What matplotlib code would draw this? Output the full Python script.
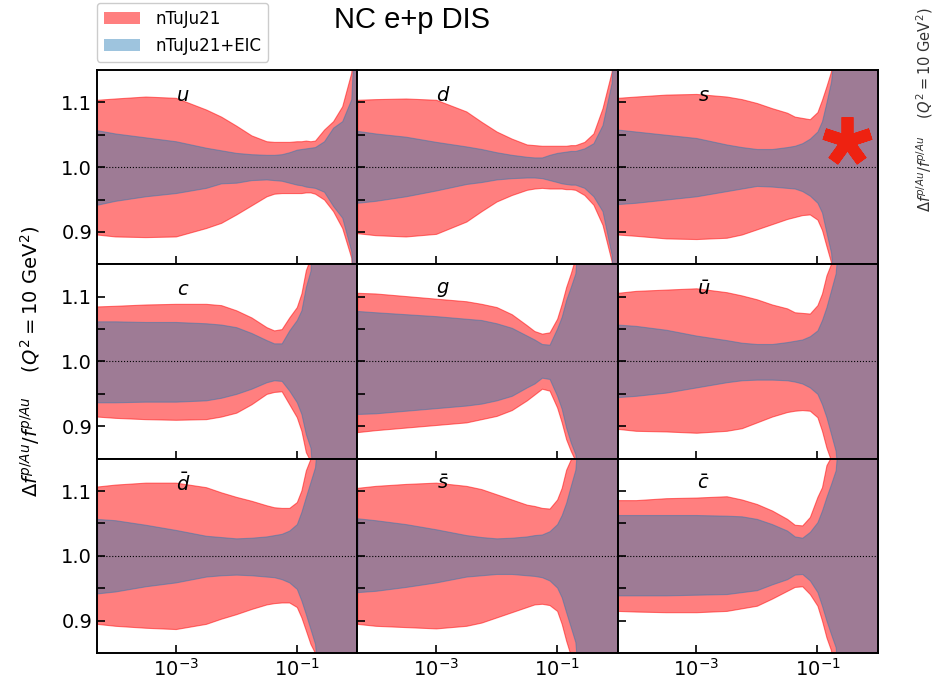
import numpy as np
import matplotlib
matplotlib.use("Agg")
import matplotlib.pyplot as plt
from matplotlib.patches import Patch

# x grid (momentum fraction), shared by all panels
X = [5.0e-5, 1.0e-4, 3.16e-4, 1.0e-3, 3.16e-3, 5.62e-3, 1.0e-2, 1.78e-2,
     3.16e-2, 4.22e-2, 5.62e-2, 7.50e-2, 0.1, 0.119, 0.141, 0.168, 0.2,
     0.282, 0.398, 0.562, 0.794, 1.0]

FLAVOURS = ["u", "d", "s", "c", "g", r"\bar{u}", r"\bar{d}", r"\bar{s}", r"\bar{c}"]

# nTuJu21 band (upper / lower)
RED_HI = {
    "u": [1.104, 1.106, 1.109, 1.107, 1.089, 1.078, 1.064, 1.049, 1.040, 1.039, 1.039,
          1.039, 1.040, 1.040, 1.041, 1.040, 1.041, 1.058, 1.071, 1.094, 1.146, 1.30],
    "d": [1.104, 1.105, 1.106, 1.104, 1.086, 1.070, 1.055, 1.044, 1.035, 1.034, 1.033,
          1.033, 1.033, 1.033, 1.033, 1.034, 1.034, 1.039, 1.052, 1.091, 1.147, 1.30],
    "s": [1.107, 1.109, 1.112, 1.113, 1.109, 1.105, 1.099, 1.091, 1.084, 1.078, 1.076,
          1.074, 1.085, 1.104, 1.125, 1.148, 1.25, 1.30, 1.30, 1.30, 1.30, 1.30],
    "c": [1.085, 1.086, 1.088, 1.089, 1.089, 1.087, 1.079, 1.068, 1.053, 1.048, 1.050,
          1.068, 1.084, 1.105, 1.141, 1.16, 1.30, 1.30, 1.30, 1.30, 1.30, 1.30],
    "g": [1.106, 1.105, 1.101, 1.097, 1.093, 1.089, 1.084, 1.073, 1.056, 1.047, 1.043,
          1.045, 1.066, 1.089, 1.115, 1.136, 1.16, 1.30, 1.30, 1.30, 1.30, 1.30],
    r"\bar{u}": [1.106, 1.109, 1.111, 1.113, 1.107, 1.102, 1.096, 1.088, 1.082, 1.076, 1.075,
                 1.074, 1.087, 1.105, 1.133, 1.151, 1.30, 1.30, 1.30, 1.30, 1.30, 1.30],
    r"\bar{d}": [1.107, 1.110, 1.113, 1.113, 1.106, 1.098, 1.091, 1.085, 1.078, 1.075, 1.074,
                 1.074, 1.083, 1.101, 1.132, 1.150, 1.30, 1.30, 1.30, 1.30, 1.30, 1.30],
    r"\bar{s}": [1.105, 1.108, 1.111, 1.113, 1.108, 1.103, 1.095, 1.087, 1.079, 1.077, 1.074,
                 1.073, 1.087, 1.105, 1.133, 1.149, 1.30, 1.30, 1.30, 1.30, 1.30, 1.30],
    r"\bar{c}": [1.086, 1.086, 1.089, 1.090, 1.092, 1.087, 1.080, 1.070, 1.057, 1.048, 1.047,
                 1.060, 1.091, 1.106, 1.140, 1.153, 1.30, 1.30, 1.30, 1.30, 1.30, 1.30],
}
RED_LO = {
    "u": [0.896, 0.893, 0.892, 0.893, 0.906, 0.914, 0.927, 0.941, 0.955, 0.959, 0.960,
          0.960, 0.960, 0.960, 0.961, 0.961, 0.959, 0.950, 0.932, 0.906, 0.860, 0.70],
    "d": [0.898, 0.895, 0.893, 0.897, 0.916, 0.932, 0.947, 0.957, 0.965, 0.967, 0.968,
          0.967, 0.967, 0.967, 0.966, 0.966, 0.965, 0.957, 0.942, 0.911, 0.855, 0.70],
    "s": [0.896, 0.894, 0.890, 0.889, 0.891, 0.896, 0.904, 0.912, 0.920, 0.923, 0.926,
          0.927, 0.919, 0.903, 0.878, 0.853, 0.76, 0.70, 0.70, 0.70, 0.70, 0.70],
    "c": [0.915, 0.913, 0.911, 0.910, 0.911, 0.915, 0.921, 0.934, 0.950, 0.953, 0.954,
          0.934, 0.914, 0.893, 0.860, 0.846, 0.75, 0.70, 0.70, 0.70, 0.70, 0.70],
    "g": [0.891, 0.894, 0.898, 0.902, 0.906, 0.911, 0.916, 0.925, 0.940, 0.949, 0.958,
          0.955, 0.929, 0.906, 0.880, 0.862, 0.847, 0.70, 0.70, 0.70, 0.70, 0.70],
    r"\bar{u}": [0.896, 0.893, 0.892, 0.890, 0.893, 0.897, 0.906, 0.915, 0.922, 0.924, 0.925,
                 0.924, 0.914, 0.893, 0.867, 0.847, 0.75, 0.70, 0.70, 0.70, 0.70, 0.70],
    r"\bar{d}": [0.895, 0.892, 0.889, 0.887, 0.895, 0.903, 0.910, 0.918, 0.925, 0.927, 0.928,
                 0.928, 0.921, 0.905, 0.885, 0.864, 0.850, 0.70, 0.70, 0.70, 0.70, 0.70],
    r"\bar{s}": [0.895, 0.892, 0.890, 0.888, 0.892, 0.897, 0.905, 0.913, 0.921, 0.925, 0.926,
                 0.924, 0.915, 0.895, 0.869, 0.846, 0.75, 0.70, 0.70, 0.70, 0.70, 0.70],
    r"\bar{c}": [0.915, 0.914, 0.913, 0.913, 0.915, 0.919, 0.923, 0.934, 0.946, 0.952, 0.953,
                 0.941, 0.923, 0.900, 0.874, 0.854, 0.75, 0.70, 0.70, 0.70, 0.70, 0.70],
}

# nTuJu21+EIC band (upper / lower)
BLUE_HI = {
    "u": [1.057, 1.052, 1.046, 1.040, 1.030, 1.026, 1.022, 1.020, 1.019, 1.019, 1.020,
          1.023, 1.027, 1.028, 1.029, 1.030, 1.031, 1.040, 1.061, 1.071, 1.105, 1.30],
    "d": [1.056, 1.052, 1.047, 1.039, 1.032, 1.028, 1.023, 1.019, 1.016, 1.015, 1.015,
          1.019, 1.022, 1.023, 1.024, 1.025, 1.025, 1.029, 1.037, 1.065, 1.130, 1.30],
    "s": [1.058, 1.055, 1.050, 1.045, 1.035, 1.031, 1.028, 1.028, 1.031, 1.033, 1.037,
          1.044, 1.055, 1.071, 1.100, 1.132, 1.20, 1.30, 1.30, 1.30, 1.30, 1.30],
    "c": [1.062, 1.062, 1.061, 1.061, 1.059, 1.057, 1.053, 1.044, 1.033, 1.028, 1.028,
          1.048, 1.064, 1.079, 1.115, 1.140, 1.25, 1.30, 1.30, 1.30, 1.30, 1.30],
    "g": [1.078, 1.076, 1.073, 1.070, 1.066, 1.064, 1.059, 1.052, 1.040, 1.034, 1.027,
          1.026, 1.051, 1.069, 1.095, 1.115, 1.136, 1.30, 1.30, 1.30, 1.30, 1.30],
    r"\bar{u}": [1.057, 1.055, 1.049, 1.040, 1.033, 1.029, 1.027, 1.027, 1.030, 1.032, 1.034,
                 1.039, 1.048, 1.064, 1.084, 1.110, 1.136, 1.30, 1.30, 1.30, 1.30, 1.30],
    r"\bar{d}": [1.057, 1.055, 1.048, 1.040, 1.031, 1.029, 1.027, 1.028, 1.030, 1.032, 1.034,
                 1.039, 1.049, 1.068, 1.091, 1.114, 1.137, 1.30, 1.30, 1.30, 1.30, 1.30],
    r"\bar{s}": [1.058, 1.055, 1.049, 1.041, 1.032, 1.029, 1.027, 1.028, 1.030, 1.032, 1.033,
                 1.038, 1.049, 1.063, 1.082, 1.108, 1.133, 1.30, 1.30, 1.30, 1.30, 1.30],
    r"\bar{c}": [1.063, 1.063, 1.063, 1.063, 1.062, 1.061, 1.057, 1.049, 1.039, 1.030, 1.028,
                 1.037, 1.052, 1.070, 1.091, 1.111, 1.132, 1.30, 1.30, 1.30, 1.30, 1.30],
}
BLUE_LO = {
    "u": [0.942, 0.948, 0.955, 0.960, 0.968, 0.975, 0.976, 0.980, 0.981, 0.980, 0.979,
          0.976, 0.973, 0.972, 0.970, 0.969, 0.968, 0.962, 0.940, 0.922, 0.870, 0.70],
    "d": [0.945, 0.948, 0.955, 0.964, 0.974, 0.977, 0.981, 0.983, 0.984, 0.984, 0.983,
          0.980, 0.977, 0.975, 0.974, 0.973, 0.973, 0.968, 0.955, 0.932, 0.865, 0.70],
    "s": [0.943, 0.945, 0.950, 0.955, 0.963, 0.967, 0.971, 0.970, 0.968, 0.967, 0.963,
          0.956, 0.945, 0.930, 0.899, 0.868, 0.78, 0.70, 0.70, 0.70, 0.70, 0.70],
    "c": [0.937, 0.937, 0.938, 0.938, 0.940, 0.944, 0.950, 0.958, 0.968, 0.971, 0.970,
          0.955, 0.937, 0.919, 0.888, 0.867, 0.78, 0.70, 0.70, 0.70, 0.70, 0.70],
    "g": [0.919, 0.920, 0.924, 0.928, 0.932, 0.935, 0.940, 0.947, 0.960, 0.966, 0.975,
          0.973, 0.947, 0.927, 0.898, 0.875, 0.857, 0.70, 0.70, 0.70, 0.70, 0.70],
    r"\bar{u}": [0.945, 0.947, 0.952, 0.960, 0.968, 0.971, 0.972, 0.972, 0.971, 0.969, 0.966,
                 0.960, 0.950, 0.934, 0.914, 0.888, 0.862, 0.70, 0.70, 0.70, 0.70, 0.70],
    r"\bar{d}": [0.942, 0.945, 0.953, 0.959, 0.968, 0.970, 0.971, 0.970, 0.968, 0.967, 0.964,
                 0.959, 0.949, 0.931, 0.910, 0.887, 0.864, 0.70, 0.70, 0.70, 0.70, 0.70],
    r"\bar{s}": [0.944, 0.946, 0.952, 0.959, 0.968, 0.970, 0.972, 0.972, 0.970, 0.969, 0.967,
                 0.962, 0.951, 0.936, 0.913, 0.890, 0.867, 0.70, 0.70, 0.70, 0.70, 0.70],
    r"\bar{c}": [0.939, 0.939, 0.939, 0.940, 0.941, 0.944, 0.947, 0.956, 0.964, 0.971, 0.972,
                 0.962, 0.944, 0.923, 0.900, 0.879, 0.859, 0.70, 0.70, 0.70, 0.70, 0.70],
}

YTICKS = [0.9, 0.95, 1.0, 1.05, 1.1]
YTICKLABELS = ["0.9", "", "1.0", "", "1.1"]
XTICKS = [1e-3, 1e-1]

fig, axes = plt.subplots(3, 3, figsize=(9.43, 6.82), dpi=100, sharex=True, sharey=True)
fig.subplots_adjust(left=0.1029, right=0.931, top=0.8974, bottom=0.0425,
                    wspace=0, hspace=0)

for ax, fl in zip(axes.flat, FLAVOURS):
    ax.fill_between(X, RED_LO[fl], RED_HI[fl], color="red", alpha=0.5,
                    linewidth=0.8)
    ax.fill_between(X, BLUE_LO[fl], BLUE_HI[fl], color="#1f77b4", alpha=0.43,
                    linewidth=0.8)
    ax.axhline(1.0, color="black", linestyle=":", linewidth=0.8)
    ax.text(0.33, 0.87, f"${fl}$", transform=ax.transAxes, fontsize=14,
            ha="center", va="center")

    ax.set_xscale("log")
    ax.set_xlim(5e-5, 1)
    ax.set_ylim(0.85, 1.15)
    ax.set_xticks(XTICKS)
    ax.xaxis.set_minor_locator(matplotlib.ticker.NullLocator())
    ax.set_yticks(YTICKS)
    ax.set_yticklabels(YTICKLABELS)
    ax.tick_params(direction="in", length=6, width=1.2, labelsize=14,
                   left=True, bottom=True, top=False, right=False)
    for sp in ax.spines.values():
        sp.set_linewidth(1.4)

# red star marking the strange-quark panel
axes[0, 2].plot(0.88, 0.632, marker=(5, 2, 0), markersize=35, mew=8.5,
                color="#ee2211", transform=axes[0, 2].transAxes, clip_on=False)

fig.text(0.032, 0.47,
         r"$\Delta f^{p/Au}/f^{p/Au}$    $(Q^2 = 10\ \mathrm{GeV}^2)$",
         rotation=90, fontsize=14, ha="center", va="center")

fig.text(0.437, 0.97, "NC e+p DIS", fontsize=21, family="Liberation Sans",
         ha="center", va="center")

handles = [Patch(facecolor="red", alpha=0.5, label="nTuJu21"),
           Patch(facecolor="#1f77b4", alpha=0.43, label="nTuJu21+EIC")]
fig.legend(handles=handles, loc="upper left", bbox_to_anchor=(0.1029, 0.9956),
           fontsize=12, framealpha=1, handlelength=2.2, handletextpad=0.9,
           labelspacing=0.55, borderaxespad=0)

# cut-off label of the neighbouring figure
fig.text(0.981, 1 - 212 / 682,
         r"$\Delta f^{p/Au}/f^{p/Au}$    $(Q^2 = 10\ \mathrm{GeV}^2)$",
         rotation=90, fontsize=10.5, ha="center", va="bottom", color="#333333")

fig.savefig("out.png", dpi=100)
